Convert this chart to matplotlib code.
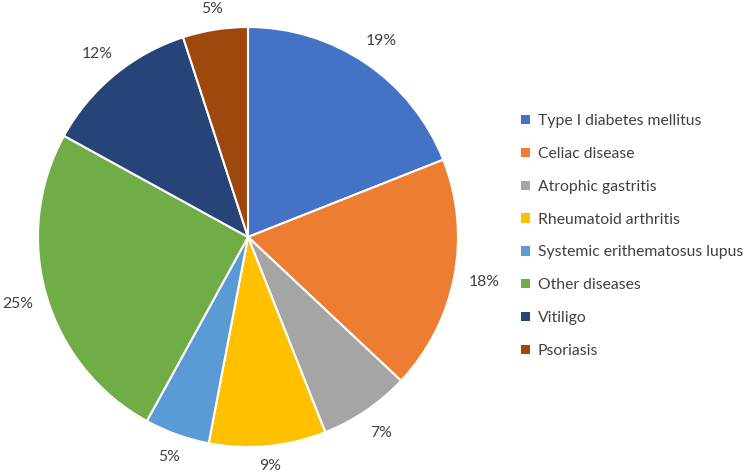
import numpy as np
import matplotlib.pyplot as plt
from matplotlib.patches import Patch

plt.rcParams['font.family'] = ['Lato', 'DejaVu Sans']

diseases = ['Type I diabetes mellitus', 'Celiac disease', 'Atrophic gastritis',
            'Rheumatoid arthritis', 'Systemic erithematosus lupus', 'Other diseases',
            'Vitiligo', 'Psoriasis']
shares = [19, 18, 7, 9, 5, 25, 12, 5]
colors = ['#4472C4', '#ED7D31', '#A5A5A5', '#FFC000', '#5B9BD5', '#70AD47',
          '#264478', '#9E480E']

fig = plt.figure(figsize=(7.5, 4.76), dpi=100)
ax = fig.add_axes([38 / 750, 29 / 476, 420 / 750, 420 / 476])

wedges, texts = ax.pie(shares, colors=colors, startangle=90, counterclock=False,
                       labels=[f'{s}%' for s in shares], labeldistance=1.1,
                       wedgeprops=dict(edgecolor='white', linewidth=1.5),
                       textprops=dict(fontsize=11.3, color='#404040'))
# push labels out like Excel's "outside end": text edge just off the rim
for w, t in zip(wedges, texts):
    a = np.deg2rad((w.theta1 + w.theta2) / 2)
    d = 1.07 + 0.07 * abs(np.cos(a)) + 0.02 * abs(np.sin(a))
    t.set_position((d * np.cos(a), d * np.sin(a)))
    t.set_horizontalalignment('center')
    t.set_verticalalignment('center')
    t.set_clip_on(False)
ax.set_xlim(-1, 1)
ax.set_ylim(-1, 1)
ax.set_aspect('equal')

handles = [Patch(facecolor=c, edgecolor='none') for c in colors]
fig.legend(handles, diseases, loc='upper left', bbox_to_anchor=(507 / 750, 1 - 100 / 476),
           frameon=False, fontsize=11.3, handlelength=0.55, handleheight=0.55,
           handletextpad=0.5, labelspacing=1.2, labelcolor='#404040')

fig.savefig('out.png', dpi=100)
